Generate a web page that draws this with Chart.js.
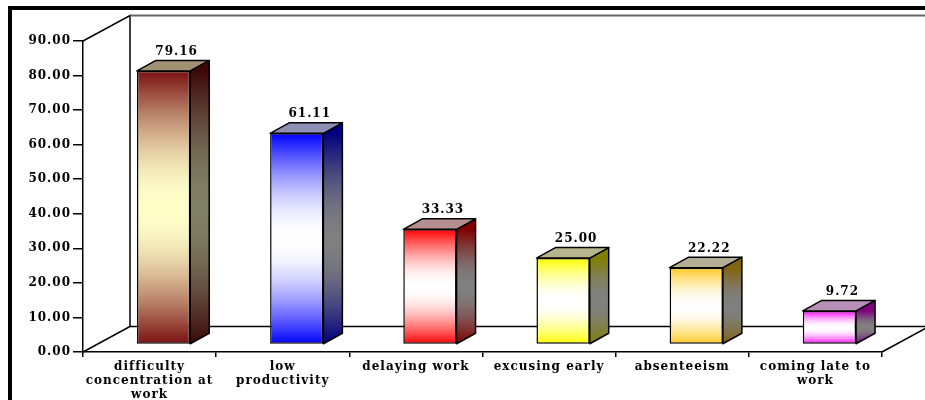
<!DOCTYPE html>
<html lang="en">
<head>
    <meta charset="UTF-8">
    <title>Work impact bars</title>
    <style>
        body { margin: 0; background: #fff; overflow: hidden; }
        canvas { display: block; }
    </style>
    <script src="https://cdnjs.cloudflare.com/ajax/libs/Chart.js/4.4.1/chart.umd.min.js"></script>
</head>
<body>
    <canvas id="barChart" width="925" height="400"></canvas>
    <script>
        const categories = [
            ['difficulty', 'concentration at', 'work'],
            ['low', 'productivity'],
            'delaying work',
            'excusing early',
            'absenteeism',
            ['coming late to', 'work']
        ];
        const values = [79.16, 61.11, 33.33, 25.00, 22.22, 9.72];

        // [end colour, middle colour] of each bar's gradient
        const barColors = [
            [[122, 16, 16], [255, 255, 200]],
            [[0, 0, 255], [255, 255, 255]],
            [[255, 0, 0], [255, 255, 255]],
            [[255, 255, 0], [255, 255, 255]],
            [[255, 200, 32], [255, 255, 255]],
            [[255, 0, 255], [255, 255, 255]]
        ];

        const FONT = 'bold 12px "DejaVu Serif"';
        const wallDepth = { x: 47, y: -25.5 };
        const barDepth = { x: 19, y: -10.5 };
        const barShift = { x: 14, y: -7.5 };

        const rgb = (c, k = 1) => `rgb(${c.map(v => Math.round(v * k)).join(',')})`;
        const mix = (a, b, t) => a.map((v, i) => v + (b[i] - v) * t);

        // soft cylinder-like shading: end colour at both ends, middle colour half way
        function faceGradient(ctx, top, bottom, end, mid, k = 1) {
            const g = ctx.createLinearGradient(0, top, 0, bottom);
            for (let s = 0; s <= 20; s++) {
                const w = Math.sin(Math.PI * s / 20);
                g.addColorStop(s / 20, rgb(mix(end, mid, w), k));
            }
            return g;
        }

        const box3d = {
            id: 'box3d',
            beforeDraw(chart) {
                // heavy frame, running off the right and bottom edges
                const ctx = chart.ctx;
                ctx.letterSpacing = '1px';
                ctx.save();
                ctx.fillStyle = '#000';
                ctx.fillRect(8, 6, chart.width - 8, 4);
                ctx.fillRect(8, 6, 4, chart.height - 6);
                ctx.restore();
            },
            beforeDatasetsDraw(chart) {
                // back wall and floor
                const { ctx, chartArea: a } = chart;
                const dx = wallDepth.x, dy = wallDepth.y;
                ctx.save();
                ctx.lineWidth = 1.5;
                ctx.strokeStyle = '#000';
                ctx.beginPath();
                ctx.moveTo(a.left, a.top);
                ctx.lineTo(a.left + dx, a.top + dy);
                ctx.lineTo(a.left + dx, a.bottom + dy);
                ctx.lineTo(a.left, a.bottom);
                ctx.moveTo(a.left + dx, a.bottom + dy);
                ctx.lineTo(a.right + dx, a.bottom + dy);
                ctx.lineTo(a.right, a.bottom);
                ctx.stroke();
                ctx.strokeStyle = '#666';
                ctx.lineWidth = 2;
                ctx.beginPath();
                ctx.moveTo(a.left + dx, a.top + dy);
                ctx.lineTo(a.right + dx, a.top + dy);
                ctx.stroke();
                ctx.restore();
            },
            beforeDatasetDraw(chart) {
                // bars stand part way back on the floor
                chart.ctx.save();
                chart.ctx.translate(barShift.x, barShift.y);
            },
            afterDatasetDraw(chart, args) {
                const ctx = chart.ctx;
                const dx = barDepth.x, dy = barDepth.y;
                ctx.lineWidth = 1.5;
                ctx.strokeStyle = '#000';
                ctx.lineJoin = 'round';
                args.meta.data.forEach((bar, i) => {
                    const [end, mid] = barColors[i];
                    const r = bar.x + bar.width / 2, l = bar.x - bar.width / 2;
                    // side face
                    ctx.beginPath();
                    ctx.moveTo(r, bar.y);
                    ctx.lineTo(r + dx, bar.y + dy);
                    ctx.lineTo(r + dx, bar.base + dy);
                    ctx.lineTo(r, bar.base);
                    ctx.closePath();
                    ctx.fillStyle = faceGradient(ctx, bar.y, bar.base, end, mid, 0.5);
                    ctx.fill();
                    ctx.stroke();
                    // top face, mostly grey with a tint of the bar colour
                    ctx.beginPath();
                    ctx.moveTo(l, bar.y);
                    ctx.lineTo(l + dx, bar.y + dy);
                    ctx.lineTo(r + dx, bar.y + dy);
                    ctx.lineTo(r, bar.y);
                    ctx.closePath();
                    ctx.fillStyle = rgb(mix(mix(mid, [0, 0, 0], 0.34), end, 0.15));
                    ctx.fill();
                    ctx.stroke();
                });
                ctx.restore();
            },
            afterDatasetsDraw(chart) {
                // value captions above each bar
                const ctx = chart.ctx;
                ctx.save();
                ctx.font = FONT;
                ctx.fillStyle = '#000';
                ctx.textAlign = 'center';
                ctx.textBaseline = 'middle';
                chart.getDatasetMeta(0).data.forEach((bar, i) => {
                    ctx.fillText(values[i].toFixed(2), bar.x + barShift.x + 13,
                        bar.y + barShift.y + barDepth.y - 8.5);
                });
                ctx.restore();
            }
        };

        new Chart(document.getElementById('barChart'), {
            type: 'bar',
            plugins: [box3d],
            data: {
                labels: categories,
                datasets: [{
                    data: values,
                    clip: false,
                    barPercentage: 0.4,
                    categoryPercentage: 1,
                    borderWidth: 1.5,
                    borderColor: '#000',
                    borderSkipped: false,
                    backgroundColor(c) {
                        const { ctx, scales, chartArea } = c.chart;
                        const [end, mid] = barColors[c.dataIndex];
                        // scales have no pixels until the first layout has run
                        if (!chartArea) return rgb(end);
                        return faceGradient(ctx, scales.y.getPixelForValue(values[c.dataIndex]),
                            scales.y.getPixelForValue(0), end, mid);
                    }
                }]
            },
            options: {
                responsive: false,
                animation: false,
                layout: { padding: { top: 41, right: 43, left: 0, bottom: 0 } },
                plugins: { legend: { display: false }, tooltip: { enabled: false } },
                scales: {
                    x: {
                        afterFit(s) { s.height = 48; },
                        border: { color: '#000', width: 1.5 },
                        grid: { color: '#000', lineWidth: 1.5, drawOnChartArea: false, tickLength: 5 },
                        ticks: {
                            color: '#000',
                            font: { family: '"DejaVu Serif"', size: 12, weight: 'bold', lineHeight: 1.15 },
                            padding: 3,
                            maxRotation: 0,
                            autoSkip: false
                        }
                    },
                    y: {
                        min: 0,
                        max: 90,
                        afterFit(s) { s.width = 83; },
                        border: { color: '#000', width: 1.5 },
                        grid: { color: '#000', lineWidth: 1.5, drawOnChartArea: false, tickLength: 10 },
                        ticks: {
                            stepSize: 10,
                            color: '#000',
                            padding: 2,
                            font: { family: '"DejaVu Serif"', size: 12, weight: 'bold' },
                            callback: v => v.toFixed(2)
                        }
                    }
                }
            }
        });
    </script>
</body>
</html>
